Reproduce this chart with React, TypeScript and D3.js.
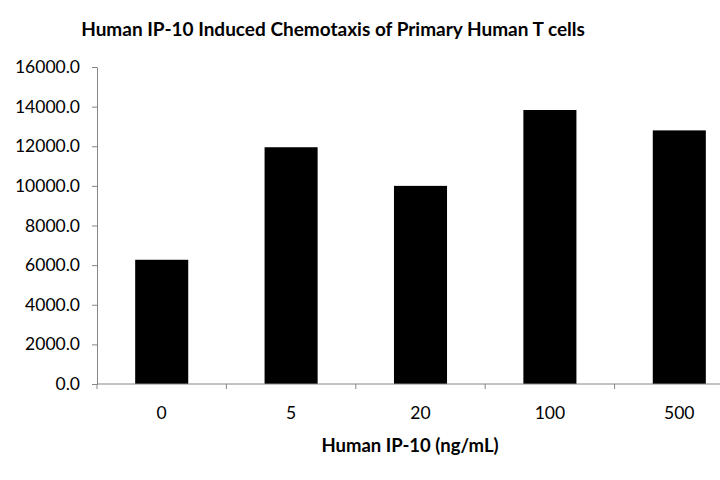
import React, { useEffect, useRef } from "react";
import * as d3 from "d3";

// chart data
const doses = ["0", "5", "20", "100", "500"];
const migration = [6270, 11950, 10000, 13830, 12800];
const yTicks = [0, 2000, 4000, 6000, 8000, 10000, 12000, 14000, 16000];

const App: React.FC = () => {
  const svgRef = useRef<SVGSVGElement | null>(null);

  useEffect(() => {
    const width = 720;
    const height = 480;
    const margin = { top: 67, right: -24, bottom: 96, left: 97 };
    const font = "Lato, 'Open Sans', sans-serif";

    const svg = d3.select(svgRef.current);
    svg.selectAll("*").remove();

    const data = doses.map((d, i) => ({ dose: d, value: migration[i] }));

    const xScale = d3
      .scaleBand()
      .domain(doses)
      .range([margin.left, width - margin.right])
      .paddingInner(0.59)
      .paddingOuter(0.295);

    const yScale = d3
      .scaleLinear()
      .domain([0, 16000])
      .range([height - margin.bottom, margin.top]);

    // bars
    svg
      .selectAll("rect.bar")
      .data(data)
      .enter()
      .append("rect")
      .attr("class", "bar")
      .attr("x", (d) => xScale(d.dose)!)
      .attr("y", (d) => yScale(d.value))
      .attr("width", xScale.bandwidth())
      .attr("height", (d) => yScale(0) - yScale(d.value))
      .attr("fill", "#000");

    // y axis
    const yAxis = svg
      .append("g")
      .attr("transform", `translate(${margin.left},0)`)
      .call(
        d3
          .axisLeft(yScale)
          .tickValues(yTicks)
          .tickSize(5)
          .tickSizeOuter(0)
          .tickPadding(12)
          .tickFormat((d) => d3.format(".1f")(d as number))
      );
    yAxis.select(".domain").attr("stroke", "#868686");
    yAxis.selectAll(".tick line").attr("stroke", "#868686");
    yAxis
      .selectAll("text")
      .attr("fill", "#000")
      .style("font-family", font)
      .style("font-size", "17.5px");

    // x axis with ticks between categories
    const step = xScale.step();
    const xAxis = svg
      .append("g")
      .attr("transform", `translate(0,${yScale(0)})`);
    xAxis
      .append("line")
      .attr("x1", margin.left)
      .attr("x2", width - margin.right)
      .attr("stroke", "#868686");
    xAxis
      .selectAll("line.tick")
      .data(d3.range(doses.length + 1))
      .enter()
      .append("line")
      .attr("class", "tick")
      .attr("x1", (i) => margin.left + i * step)
      .attr("x2", (i) => margin.left + i * step)
      .attr("y1", 0)
      .attr("y2", 5)
      .attr("stroke", "#868686");
    xAxis
      .selectAll("text")
      .data(doses)
      .enter()
      .append("text")
      .attr("x", (d) => xScale(d)! + xScale.bandwidth() / 2)
      .attr("y", 35)
      .attr("text-anchor", "middle")
      .style("font-family", font)
      .style("font-size", "17.5px")
      .text((d) => d);

    // title
    svg
      .append("text")
      .attr("x", 333)
      .attr("y", 36)
      .attr("text-anchor", "middle")
      .style("font-family", font)
      .style("font-size", "19px")
      .style("font-weight", "bold")
      .text("Human IP-10 Induced Chemotaxis of Primary Human T cells");

    // x axis label
    svg
      .append("text")
      .attr("x", 410)
      .attr("y", 452)
      .attr("text-anchor", "middle")
      .style("font-family", font)
      .style("font-size", "18.5px")
      .style("font-weight", "bold")
      .text("Human IP-10 (ng/mL)");
  }, []);

  return (
    <div style={{ position: "absolute", left: 0, top: 0 }}>
      <svg ref={svgRef} width={720} height={480} style={{ display: "block", background: "#fff" }}></svg>
    </div>
  );
};

export default App;
